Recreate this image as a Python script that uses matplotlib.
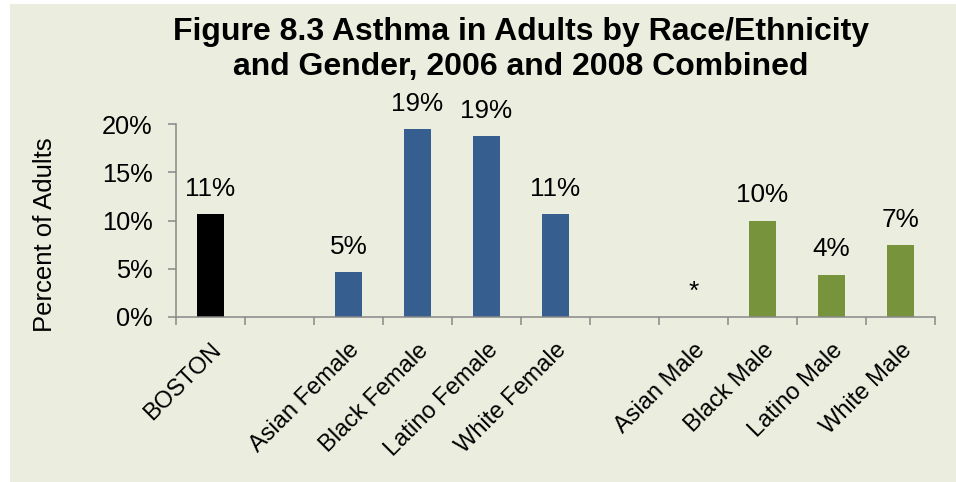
import matplotlib.pyplot as plt
import numpy as np
from matplotlib.patches import Rectangle

# chart data (empty strings / nan are spacer slots between groups)
categories = ["BOSTON", "", "Asian Female", "Black Female", "Latino Female", "White Female",
              "", "Asian Male", "Black Male", "Latino Male", "White Male"]
values = [10.7, np.nan, 4.7, 19.5, 18.8, 10.7, np.nan, 0.0, 10.0, 4.4, 7.5]
bar_labels = ["11%", "", "5%", "19%", "19%", "11%", "", "*", "10%", "4%", "7%"]
bar_colors = ["#000000", "none", "#365E8E", "#365E8E", "#365E8E", "#365E8E",
              "none", "#77933C", "#77933C", "#77933C", "#77933C"]
yticks = [0, 5, 10, 15, 20]

plt.rcParams['font.family'] = ['Liberation Sans', 'DejaVu Sans']

W, H = 956, 482
bg = "#EBEEDE"
axcol = "#898989"

fig = plt.figure(figsize=(W/100, H/100), dpi=100, facecolor="white")
fig.patches.append(Rectangle((10/W, 0), 1-10/W, 1-4/H, transform=fig.transFigure,
                             facecolor=bg, edgecolor="none", zorder=-10))

ax = fig.add_axes([176/W, 1-317/H, (935-176)/W, (317-124)/H])
ax.set_facecolor("none")

x = np.arange(len(categories))
vals = np.array(values, dtype=float)
ax.bar(x, np.nan_to_num(vals), width=0.4, color=bar_colors, zorder=2)

for i in range(len(x)):
    if bar_labels[i] == "":
        continue
    ax.annotate(bar_labels[i], (x[i], np.nan_to_num(vals[i])), xytext=(0, 13),
                textcoords="offset points", ha="center", va="baseline", fontsize=18.8,
                color="black")

ax.set_xlim(-0.5, len(categories)-0.5)
ax.set_ylim(0, 20)

ax.set_xticks(x)
ax.set_xticklabels(categories, rotation=45, ha="right", rotation_mode="anchor", fontsize=17)
ax.set_xticks(np.arange(-0.5, len(categories), 1), minor=True)
ax.tick_params(axis="x", which="major", length=0, pad=16)
ax.tick_params(axis="x", which="minor", length=5.5, width=1.1, color=axcol, direction="out")

ax.set_yticks(yticks)
ax.set_yticklabels([str(t)+"%" for t in yticks], fontsize=18.3)
ax.tick_params(axis="y", length=6, width=1.1, color=axcol, pad=11)

for s in ["top", "right"]:
    ax.spines[s].set_visible(False)
for s in ["left", "bottom"]:
    ax.spines[s].set_color(axcol)
    ax.spines[s].set_linewidth(1.1)

ax.set_ylabel("Percent of Adults", fontsize=18.5)
ax.yaxis.set_label_coords(-0.157, 0.425)

fig.text(521/W, 1-17/H, "Figure 8.3 Asthma in Adults by Race/Ethnicity\nand Gender, 2006 and 2008 Combined",
         ha="center", va="top", fontsize=23, fontweight="bold", linespacing=1.22)

fig.savefig("out.png", dpi=100, facecolor=fig.get_facecolor())
